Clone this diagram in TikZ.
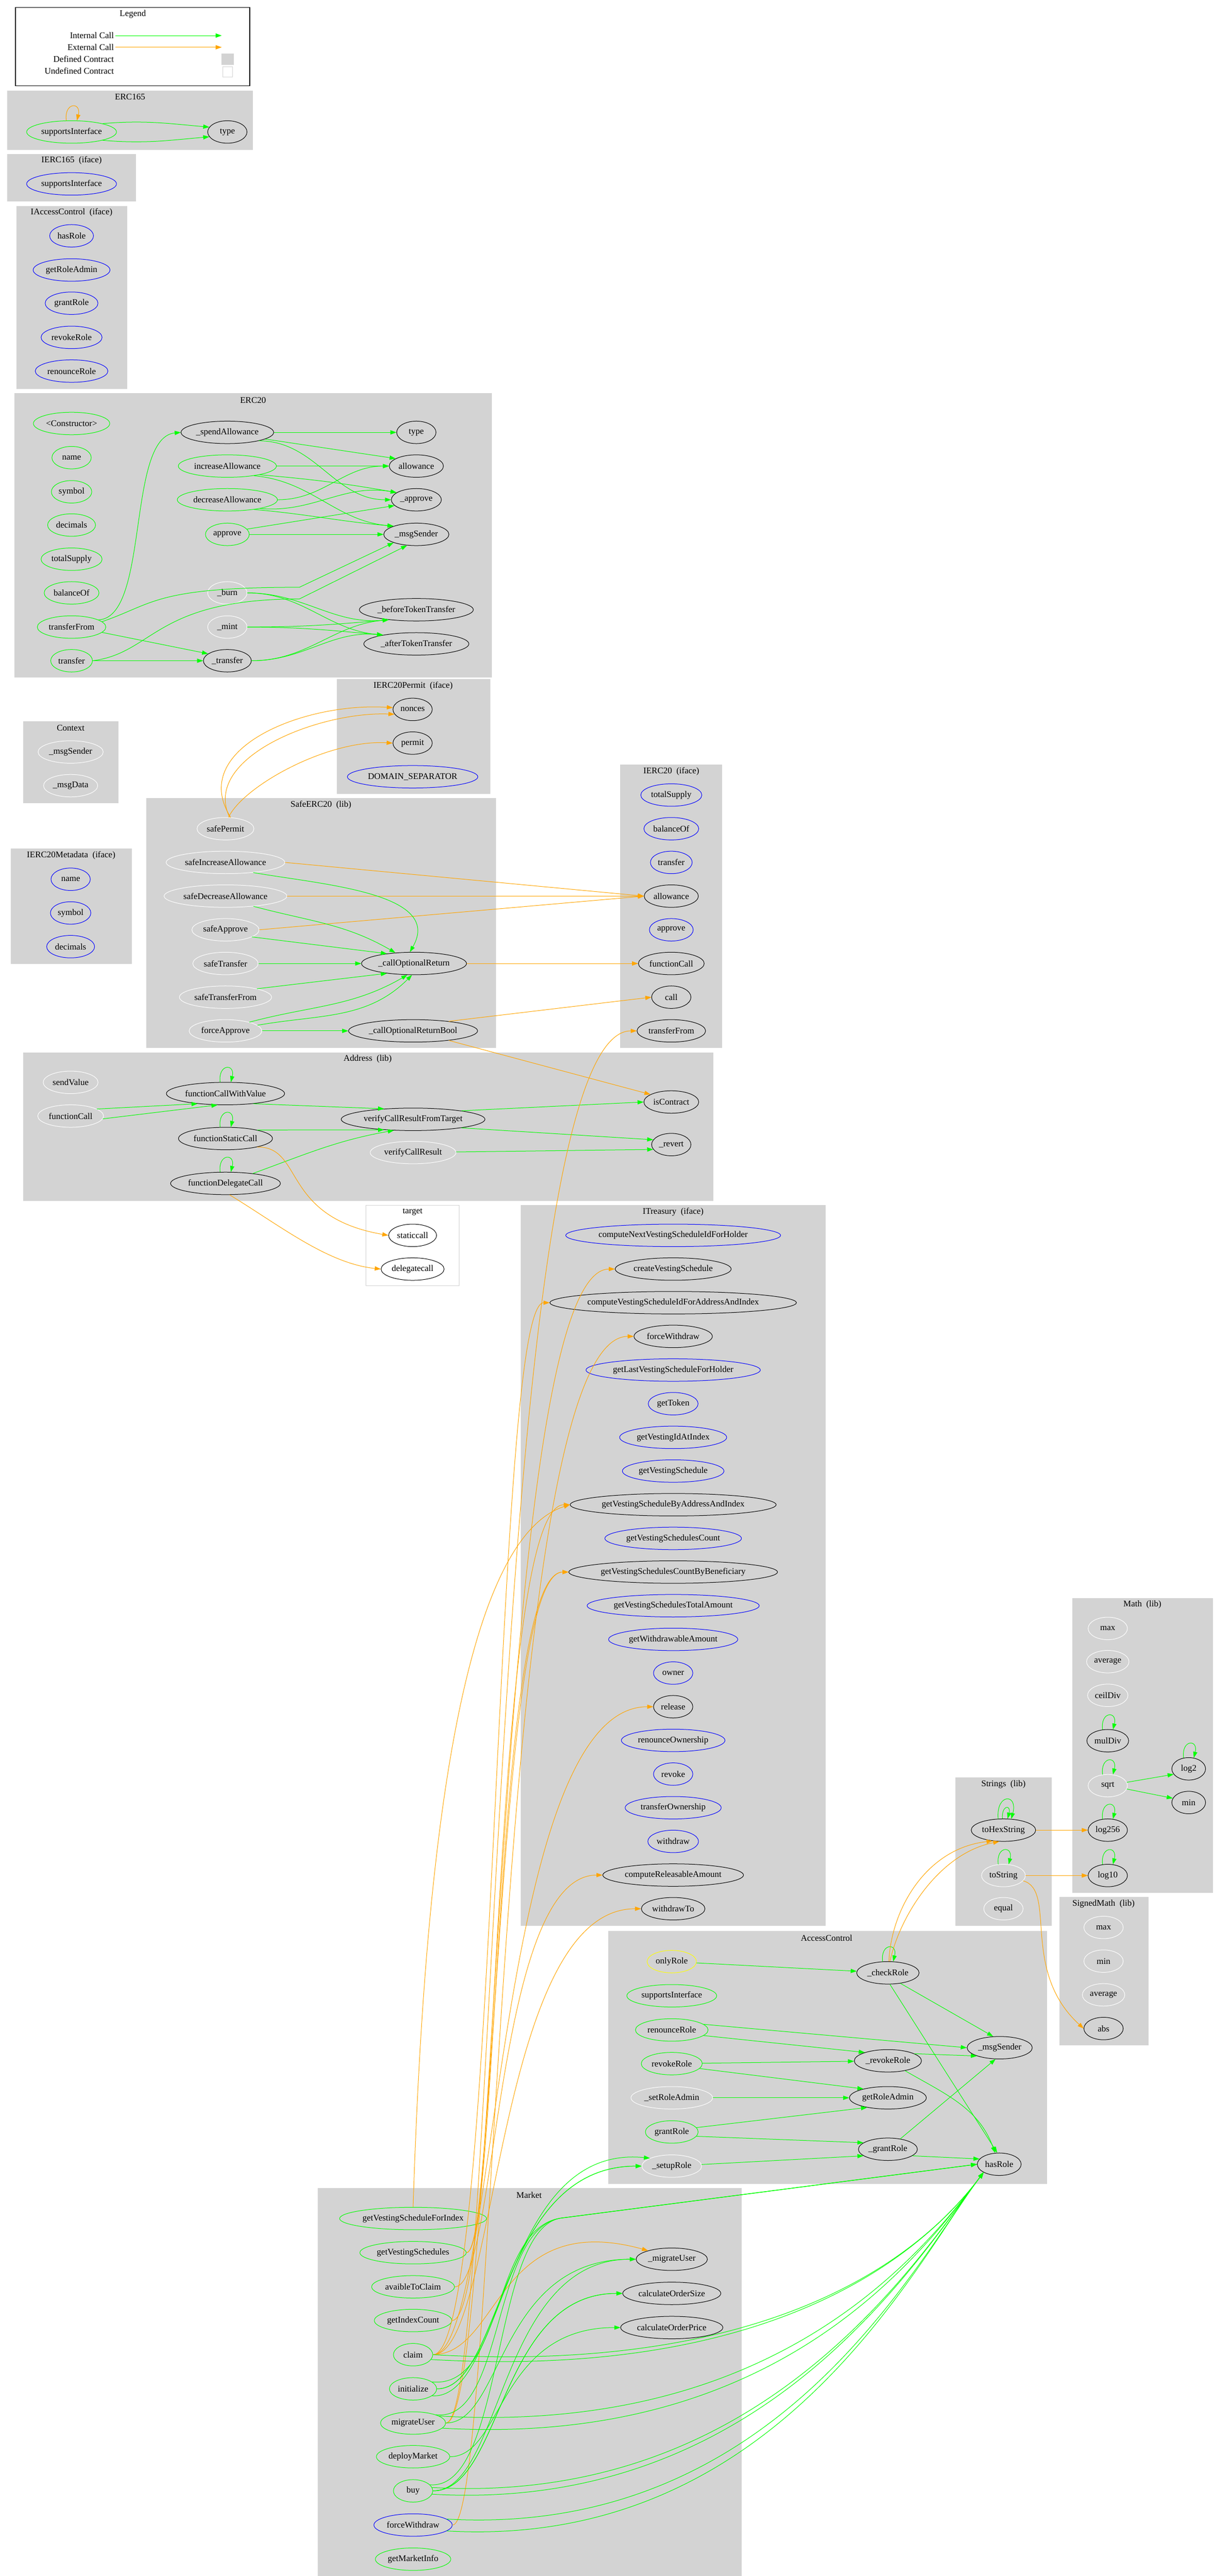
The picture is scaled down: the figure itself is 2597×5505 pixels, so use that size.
\documentclass[tikz,border=0pt]{standalone}
\usepackage{fontspec}
\setmainfont{Liberation Serif}
\usetikzlibrary{arrows.meta, positioning, shapes.geometric}
\definecolor{clgray}{HTML}{D3D3D3}
\definecolor{gvgreen}{HTML}{00FF00}
\definecolor{gvorange}{HTML}{FFA500}
\definecolor{gvyellow}{HTML}{FFFF00}

\begin{document}
\begin{tikzpicture}[
  x=1pt, y=-1pt,
  every node/.style={font=\fontsize{18.7}{22}\selectfont},
  fn/.style={ellipse, draw, line width=1.1pt, minimum width=84pt, minimum height=48pt, inner xsep=3pt, inner ysep=0pt},
  pub/.style={fn, draw=gvgreen},
  ifc/.style={fn, draw=blue},
  prv/.style={fn, draw=white},
  und/.style={fn, draw=black},
  mdf/.style={fn, draw=gvyellow},
  cluster/.style={fill=clgray, draw=clgray},
  ctitle/.style={anchor=center},
  int/.style={draw=gvgreen, line width=1.1pt, -{Triangle[length=13pt,width=9pt]}},
  ext/.style={draw=gvorange, line width=1.1pt, -{Triangle[length=13pt,width=9pt]}}
]
\useasboundingbox (0,0) rectangle (2597,5505);

% Legend
\draw[line width=1.2pt] (33,16) rectangle (534,183);
\node[ctitle] at (284,30) {Legend};
\node[anchor=east] (lgInt) at (247,76) {Internal Call};
\node[anchor=east] (lgExt) at (247,101) {External Call};
\node[anchor=east] (lgDef) at (247,126) {Defined Contract};
\node[anchor=east] (lgUnd) at (247,152) {Undefined Contract};
\coordinate (lgIntEnd) at (474,76);
\coordinate (lgExtEnd) at (474,101);
\draw[int] (lgInt.east) -- (lgIntEnd);
\draw[ext] (lgExt.east) -- (lgExtEnd);
\fill[clgray] (473,114) rectangle (500,139);
\draw[clgray, line width=1pt] (476,142) rectangle (497,164);

% Clusters
\fill[cluster] (16,194) rectangle (540,319);      \node[ctitle] at (278,207) {ERC165};
\fill[cluster] (16,329) rectangle (290,430);      \node[ctitle] at (153,343) {IERC165\ \ (iface)};
\fill[cluster] (35,441) rectangle (271,830);      \node[ctitle] at (153,454) {IAccessControl\ \ (iface)};
\fill[cluster] (31,840) rectangle (1051,1447);    \node[ctitle] at (541,855) {ERC20};
\fill[cluster] (50,1542) rectangle (252,1715);    \node[ctitle] at (151,1556) {Context};
\fill[cluster] (23,1814) rectangle (281,2059);    \node[ctitle] at (152,1828) {IERC20Metadata\ \ (iface)};
\fill[cluster] (720,1451) rectangle (1047,1696);  \node[ctitle] at (883,1466) {IERC20Permit\ \ (iface)};
\fill[cluster] (313,1706) rectangle (1059,2238);  \node[ctitle] at (686,1720) {SafeERC20\ \ (lib)};
\fill[cluster] (1326,1634) rectangle (1543,2238); \node[ctitle] at (1435,1648) {IERC20\ \ (iface)};
\fill[cluster] (50,2249) rectangle (1524,2565);   \node[ctitle] at (786,2263) {Address\ \ (lib)};
\draw[clgray, line width=1pt] (782,2576) rectangle (981,2747); \node[ctitle] at (882,2590) {target};
\fill[cluster] (1113,2575) rectangle (1764,4115); \node[ctitle] at (1439,2590) {ITreasury\ \ (iface)};
\fill[cluster] (2292,3416) rectangle (2592,4044); \node[ctitle] at (2442,3429) {Math\ \ (lib)};
\fill[cluster] (2042,3799) rectangle (2247,4115); \node[ctitle] at (2145,3813) {Strings\ \ (lib)};
\fill[cluster] (2265,4054) rectangle (2454,4370); \node[ctitle] at (2359,4069) {SignedMath\ \ (lib)};
\fill[cluster] (1300,4127) rectangle (2237,4666); \node[ctitle] at (1767,4142) {AccessControl};
\fill[cluster] (680,4676) rectangle (1584,5505);  \node[ctitle] at (1131,4691) {Market};

% ERC165 / IERC165 / IAccessControl
\node[pub] (ercSI) at (153,282) {supportsInterface};
\node[und] (ercType) at (486,282) {type};
\node[ifc] (iercSI) at (153,393) {supportsInterface};
\node[ifc] (iacHasRole) at (153,504) {hasRole};
\node[ifc] (iacGetRoleAdmin) at (153,577) {getRoleAdmin};
\node[ifc] (iacGrantRole) at (153,648) {grantRole};
\node[ifc] (iacRevokeRole) at (153,721) {revokeRole};
\node[ifc] (iacRenounceRole) at (153,793) {renounceRole};

% ERC20
\node[pub] (eCtor) at (153,905) {<Constructor>};
\node[pub] (eName) at (153,978) {name};
\node[pub] (eSymbol) at (153,1051) {symbol};
\node[pub] (eDecimals) at (153,1122) {decimals};
\node[pub] (eTotal) at (153,1195) {totalSupply};
\node[pub] (eBalance) at (153,1267) {balanceOf};
\node[pub] (eTransferFrom) at (153,1340) {transferFrom};
\node[pub] (eTransfer) at (153,1412) {transfer};
\node[und] (eSpend) at (486,924) {\_spendAllowance};
\node[pub] (eIncrease) at (486,996) {increaseAllowance};
\node[pub] (eDecrease) at (486,1068) {decreaseAllowance};
\node[pub] (eApprove) at (486,1142) {approve};
\node[prv] (eBurn) at (486,1267) {\_burn};
\node[prv] (eMint) at (486,1340) {\_mint};
\node[und] (eTransferInt) at (486,1412) {\_transfer};
\node[und] (eType) at (890,924) {type};
\node[und] (eAllowance) at (890,996) {allowance};
\node[und] (eApproveInt) at (890,1068) {\_approve};
\node[und] (eMsgSender) at (890,1142) {\_msgSender};
\node[und] (eBefore) at (890,1303) {\_beforeTokenTransfer};
\node[und] (eAfter) at (890,1376) {\_afterTokenTransfer};

% Context / IERC20Metadata / IERC20Permit
\node[prv] (ctxMsgSender) at (151,1607) {\_msgSender};
\node[prv] (ctxMsgData) at (151,1679) {\_msgData};
\node[ifc] (metaName) at (151,1879) {name};
\node[ifc] (metaSymbol) at (151,1951) {symbol};
\node[ifc] (metaDecimals) at (151,2023) {decimals};
\node[und] (pmNonces) at (882,1516) {nonces};
\node[und] (pmPermit) at (882,1588) {permit};
\node[ifc] (pmDomain) at (882,1660) {DOMAIN\_SEPARATOR};

% SafeERC20
\node[prv] (sPermit) at (482,1771) {safePermit};
\node[prv] (sIncrease) at (482,1843) {safeIncreaseAllowance};
\node[prv] (sDecrease) at (482,1915) {safeDecreaseAllowance};
\node[prv] (sApprove) at (482,1987) {safeApprove};
\node[prv] (sTransfer) at (482,2059) {safeTransfer};
\node[prv] (sTransferFrom) at (482,2131) {safeTransferFrom};
\node[prv] (sForce) at (482,2203) {forceApprove};
\node[und] (sCall) at (885,2059) {\_callOptionalReturn};
\node[und] (sCallBool) at (883,2203) {\_callOptionalReturnBool};

% IERC20
\node[ifc] (iTotal) at (1435,1699) {totalSupply};
\node[ifc] (iBalance) at (1435,1771) {balanceOf};
\node[ifc] (iTransfer) at (1435,1843) {transfer};
\node[und] (iAllowance) at (1435,1915) {allowance};
\node[ifc] (iApprove) at (1435,1987) {approve};
\node[und] (iFunctionCall) at (1435,2059) {functionCall};
\node[und] (iCall) at (1435,2131) {call};
\node[und] (iTransferFrom) at (1435,2203) {transferFrom};

% Address
\node[prv] (aSendValue) at (151,2313) {sendValue};
\node[prv] (aFunctionCall) at (151,2385) {functionCall};
\node[und] (aCallValue) at (482,2337) {functionCallWithValue};
\node[und] (aStatic) at (482,2433) {functionStaticCall};
\node[und] (aDelegate) at (482,2529) {functionDelegateCall};
\node[und] (aVerifyTarget) at (883,2392) {verifyCallResultFromTarget};
\node[prv] (aVerify) at (883,2463) {verifyCallResult};
\node[und] (aIsContract) at (1435,2355) {isContract};
\node[und] (aRevert) at (1435,2446) {\_revert};
\node[und] (tStatic) at (882,2640) {staticcall};
\node[und] (tDelegate) at (882,2712) {delegatecall};

% ITreasury
\foreach \n/\s [count=\i from 0] in {computeNextVestingScheduleIdForHolder/ifc, createVestingSchedule/und,
  computeVestingScheduleIdForAddressAndIndex/und, forceWithdraw/und, getLastVestingScheduleForHolder/ifc,
  getToken/ifc, getVestingIdAtIndex/ifc, getVestingSchedule/ifc, getVestingScheduleByAddressAndIndex/und,
  getVestingSchedulesCount/ifc, getVestingSchedulesCountByBeneficiary/und, getVestingSchedulesTotalAmount/ifc,
  getWithdrawableAmount/ifc, owner/ifc, release/und, renounceOwnership/ifc, revoke/ifc, transferOwnership/ifc,
  withdraw/ifc, computeReleasableAmount/und, withdrawTo/und}
  \node[\s] (tr-\n) at (1439,{2640+71.95*\i}) {\n};

% Math / Strings / SignedMath
\node[prv] (mMax) at (2368,3480) {max};
\node[prv] (mAverage) at (2368,3551) {average};
\node[prv] (mCeilDiv) at (2368,3623) {ceilDiv};
\node[und] (mMulDiv) at (2368,3720) {mulDiv};
\node[prv] (mSqrt) at (2368,3816) {sqrt};
\node[und] (mLog256) at (2368,3911) {log256};
\node[und] (mLog10) at (2368,4008) {log10};
\node[und, minimum width=72pt] (mLog2) at (2541,3780) {log2};
\node[und, minimum width=72pt] (mMin) at (2541,3852) {min};
\node[und] (stHex) at (2145,3911) {toHexString};
\node[prv] (stString) at (2145,4008) {toString};
\node[prv] (stEqual) at (2145,4079) {equal};
\node[prv] (smMax) at (2359,4119) {max};
\node[prv] (smMin) at (2359,4191) {min};
\node[prv] (smAverage) at (2359,4263) {average};
\node[und] (smAbs) at (2359,4335) {abs};

% AccessControl
\node[mdf] (acOnlyRole) at (1436,4192) {onlyRole};
\node[pub] (acSI) at (1436,4265) {supportsInterface};
\node[pub] (acRenounce) at (1436,4338) {renounceRole};
\node[pub] (acRevoke) at (1436,4410) {revokeRole};
\node[prv] (acSetAdmin) at (1436,4483) {\_setRoleAdmin};
\node[pub] (acGrant) at (1436,4556) {grantRole};
\node[prv] (acSetup) at (1436,4629) {\_setupRole};
\node[und] (acCheck) at (1898,4216) {\_checkRole};
\node[und] (acRevokeInt) at (1898,4404) {\_revokeRole};
\node[und] (acGetAdmin) at (1898,4483) {getRoleAdmin};
\node[und] (acGrantInt) at (1898,4593) {\_grantRole};
\node[und] (acMsgSender) at (2137,4376) {\_msgSender};
\node[und] (acHasRole) at (2136,4625) {hasRole};

% Market
\node[pub] (mkForIndex) at (883,4741) {getVestingScheduleForIndex};
\node[pub] (mkSchedules) at (883,4814) {getVestingSchedules};
\node[pub] (mkAvail) at (883,4887) {avaibleToClaim};
\node[pub] (mkIndexCount) at (883,4959) {getIndexCount};
\node[pub] (mkClaim) at (883,5032) {claim};
\node[pub] (mkInit) at (883,5105) {initialize};
\node[pub] (mkMigrate) at (883,5178) {migrateUser};
\node[pub] (mkDeploy) at (883,5250) {deployMarket};
\node[pub] (mkBuy) at (883,5323) {buy};
\node[ifc] (mkForce) at (883,5396) {forceWithdraw};
\node[pub] (mkInfo) at (883,5469) {getMarketInfo};
\node[und] (mkMigrateInt) at (1436,4828) {\_migrateUser};
\node[und] (mkOrderSize) at (1436,4901) {calculateOrderSize};
\node[und] (mkOrderPrice) at (1436,4974) {calculateOrderPrice};

% ERC165 calls
\draw[ext] (ercSI.115) .. controls +(-5,-40) and +(10,-40) .. (ercSI.65);
\draw[int] (ercSI.15) to[out=5,in=175] (ercType.165);
\draw[int] (ercSI.-15) to[out=-5,in=185] (ercType.195);

% ERC20 calls
\draw[int] (eSpend) -- (eType);
\draw[int] (eSpend.-10) -- (eAllowance.160);
\draw[int] (eSpend.-15) to[out=0,in=180] (eApproveInt.west);
\foreach \s in {eIncrease, eDecrease} {
  \draw[int] (\s.east) to[out=0,in=180] (eAllowance.west);
  \draw[int] (\s.-15) to[out=-5,in=170] (eApproveInt.160);
  \draw[int] (\s.-20) to[out=-5,in=175] (eMsgSender.160);
}
\draw[int] (eApprove.15) -- (eApproveInt.195);
\draw[int] (eApprove) -- (eMsgSender);
\draw[int] (eTransferFrom.15) .. controls (320,1320) and (270,935) .. (eSpend.west);
\draw[int] (eTransferFrom.10) .. controls (330,1290) and (330,1255) .. (640,1255) -- (eMsgSender.200);
\draw[int] (eTransfer.east) .. controls (330,1395) and (330,1280) .. (640,1280) -- (eMsgSender.230);
\draw[int] (eTransferFrom.-10) -- (eTransferInt.160);
\draw[int] (eTransfer) -- (eTransferInt);
\foreach \s in {eBurn, eMint, eTransferInt} {
  \draw[int] (\s.east) to[out=0,in=185] (eBefore.200);
  \draw[int] (\s.east) to[out=0,in=175] (eAfter.165);
}

% SafeERC20 calls
\draw[ext] (sPermit.65) .. controls (400,1600) and (650,1500) .. (pmNonces.175);
\draw[ext] (sPermit.70) .. controls (430,1620) and (680,1520) .. (pmNonces.195);
\draw[ext] (sPermit.75) .. controls (520,1680) and (700,1580) .. (pmPermit.west);
\foreach \s in {sIncrease, sDecrease, sApprove}
  \draw[ext] (\s.east) -- (iAllowance.west);
\draw[int] (sIncrease.-20) to[out=-10,in=60] (sCall.110);
\draw[int] (sDecrease.-20) to[out=-15,in=150] (sCall.150);
\draw[int] (sApprove.-15) -- (sCall.160);
\draw[int] (sTransfer) -- (sCall);
\draw[int] (sTransferFrom.15) -- (sCall.200);
\draw[int] (sForce.20) to[out=15,in=210] (sCall.240);
\draw[int] (sForce.10) to[out=10,in=225] (sCall.260);
\draw[int] (sForce) -- (sCallBool);
\draw[ext] (sCall) -- (iFunctionCall);
\draw[ext] (sCallBool.15) -- (iCall.west);
\draw[ext] (sCallBool.-15) -- (aIsContract.160);

% Address calls
\foreach \s in {aCallValue, aStatic, aDelegate}
  \draw[int] (\s.115) .. controls +(-5,-40) and +(10,-40) .. (\s.65);
\draw[int] (aFunctionCall.15) -- (aCallValue.200);
\draw[int] (aFunctionCall.-5) -- (aCallValue.235);
\draw[int] (aCallValue.-20) -- (aVerifyTarget.160);
\draw[int] (aStatic.15) -- (aVerifyTarget.200);
\draw[int] (aDelegate.20) to[out=20,in=190] (aVerifyTarget.210);
\draw[int] (aVerifyTarget.10) -- (aIsContract.west);
\draw[int] (aVerifyTarget.-10) -- (aRevert.165);
\draw[int] (aVerify) -- (aRevert.195);
\draw[ext] (aStatic.-15) .. controls (650,2450) and (600,2600) .. (tStatic.west);
\draw[ext] (aDelegate.-70) .. controls (600,2620) and (700,2700) .. (tDelegate.west);

% Strings / Math calls
\draw[int] (stHex.115) .. controls +(-5,-55) and +(15,-55) .. (stHex.55);
\draw[int] (stHex.95) .. controls +(-2,-30) and +(8,-30) .. (stHex.70);
\draw[int] (stString.115) .. controls +(-5,-40) and +(10,-40) .. (stString.65);
\draw[ext] (stHex) -- (mLog256);
\draw[ext] (stString) -- (mLog10);
\draw[ext] (stString.-15) .. controls (2260,4040) and (2180,4210) .. (smAbs.west);
\foreach \s in {mMulDiv, mSqrt, mLog256, mLog10, mLog2}
  \draw[int] (\s.115) .. controls +(-5,-40) and +(10,-40) .. (\s.65);
\draw[int] (mSqrt.10) -- (mLog2.200);
\draw[int] (mSqrt.-10) -- (mMin.165);

% AccessControl calls
\draw[int] (acCheck.115) .. controls +(-5,-40) and +(10,-40) .. (acCheck.65);
\draw[ext] (acCheck.85) .. controls (1905,4080) and (1980,3950) .. (stHex.225);
\draw[ext] (acCheck.80) .. controls (1925,4090) and (2010,3960) .. (stHex.250);
\draw[int] (acOnlyRole) -- (acCheck);
\draw[int] (acCheck.-40) -- (acMsgSender.120);
\draw[int] (acCheck.-80) -- (acHasRole.100);
\draw[int] (acRenounce.10) -- (acMsgSender.west);
\draw[int] (acRenounce.-10) -- (acRevokeInt.160);
\draw[int] (acRevoke) -- (acRevokeInt);
\draw[int] (acRevoke.-10) -- (acGetAdmin.160);
\draw[int] (acSetAdmin) -- (acGetAdmin);
\draw[int] (acGrant.10) -- (acGetAdmin.205);
\draw[int] (acGrant.-10) -- (acGrantInt.165);
\draw[int] (acSetup) -- (acGrantInt.195);
\draw[int] (acRevokeInt.15) -- (acMsgSender.200);
\draw[int] (acRevokeInt.-30) to[out=-30,in=110] (acHasRole.110);
\draw[int] (acGrantInt.40) -- (acMsgSender.250);
\draw[int] (acGrantInt.-15) -- (acHasRole.165);

% Market calls through the ITreasury and IERC20 interfaces
\draw[ext] (mkForIndex.north) .. controls (900,4200) and (950,3300) .. (tr-getVestingScheduleByAddressAndIndex.west);
\foreach \s/\t in {mkSchedules/getVestingScheduleByAddressAndIndex, mkSchedules/getVestingSchedulesCountByBeneficiary,
  mkAvail/computeReleasableAmount, mkIndexCount/getVestingSchedulesCountByBeneficiary,
  mkClaim/release, mkClaim/computeVestingScheduleIdForAddressAndIndex, mkClaim/withdrawTo,
  mkMigrate/createVestingSchedule, mkForce/forceWithdraw}
  \draw[ext] (\s.east) .. controls (1065,0 |- \s.east) and (1055,0 |- tr-\t.west) .. (tr-\t.west);
\draw[ext] (mkMigrate.east) .. controls (1065,0 |- mkMigrate.east) and (1045,0 |- iTransferFrom.west) .. (iTransferFrom.west);
\draw[ext] (mkClaim.east) .. controls (1070,5030) and (1060,4720) .. (mkMigrateInt.160);

% Market internal calls
\foreach \s/\t in {mkInit/acSetup, mkInit/acSetup, mkMigrate/mkMigrateInt, mkBuy/mkMigrateInt,
  mkBuy/mkOrderSize, mkBuy/mkOrderSize, mkDeploy/mkOrderPrice}
  \draw[int] (\s.east) .. controls (1075,0 |- \s.east) and (1065,0 |- \t.west) .. (\t.west);
\draw[int] (mkInit.-20) .. controls (1080,5130) and (1070,4580) .. (acSetup.160);
\foreach \s/\d in {mkClaim/0, mkClaim/-15, mkMigrate/15, mkMigrate/-10, mkBuy/10, mkBuy/-10, mkForce/10, mkForce/-10}
  \draw[int] (\s.\d) .. controls +(700,40) and +(-150,200) .. (acHasRole.south west);
\foreach \s/\d in {mkMigrate/20, mkBuy/20, mkInit/20}
  \draw[int] (\s.\d) .. controls (1080,0 |- \s.east) and (1050,4760) .. (1200,4740) -- (acHasRole.west);
\end{tikzpicture}
\end{document}
